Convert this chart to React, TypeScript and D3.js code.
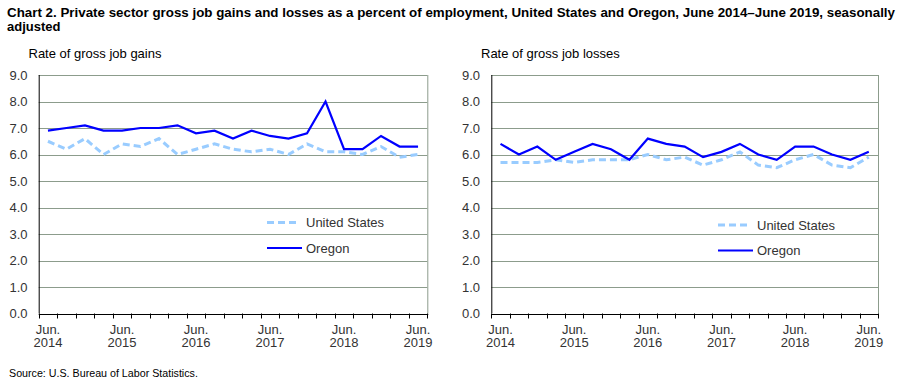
// Chart 2 - gross job gains and losses, US vs Oregon (two panels)
import React, { useEffect, useRef } from 'react';
import * as d3 from 'd3';

const quarters = [
  'Jun 2014', 'Sep 2014', 'Dec 2014', 'Mar 2015',
  'Jun 2015', 'Sep 2015', 'Dec 2015', 'Mar 2016',
  'Jun 2016', 'Sep 2016', 'Dec 2016', 'Mar 2017',
  'Jun 2017', 'Sep 2017', 'Dec 2017', 'Mar 2018',
  'Jun 2018', 'Sep 2018', 'Dec 2018', 'Mar 2019',
  'Jun 2019'
];

const gainsUS = [6.5, 6.2, 6.6, 6.0, 6.4, 6.3, 6.6, 6.0, 6.2, 6.4, 6.2, 6.1, 6.2, 6.0, 6.4, 6.1, 6.1, 6.0, 6.3, 5.9, 6.0];
const gainsOR = [6.9, 7.0, 7.1, 6.9, 6.9, 7.0, 7.0, 7.1, 6.8, 6.9, 6.6, 6.9, 6.7, 6.6, 6.8, 8.0, 6.2, 6.2, 6.7, 6.3, 6.3];

const lossesUS = [5.7, 5.7, 5.7, 5.8, 5.7, 5.8, 5.8, 5.8, 6.0, 5.8, 5.9, 5.6, 5.8, 6.1, 5.6, 5.5, 5.8, 6.0, 5.6, 5.5, 5.9];
const lossesOR = [6.4, 6.0, 6.3, 5.8, 6.1, 6.4, 6.2, 5.8, 6.6, 6.4, 6.3, 5.9, 6.1, 6.4, 6.0, 5.8, 6.3, 6.3, 6.0, 5.8, 6.1];

const yTicks = [0, 1, 2, 3, 4, 5, 6, 7, 8, 9];
const seriesNames = ['United States', 'Oregon'];

const FONT = 'Arial, "Liberation Sans", sans-serif';

const App: React.FC = () => {
  const svgRef = useRef<SVGSVGElement>(null);

  useEffect(() => {
    if (!svgRef.current) return;
    const svg = d3.select(svgRef.current);
    svg.selectAll('*').remove();

    // title
    const title = svg.append('text')
      .attr('font-family', FONT)
      .attr('font-weight', 'bold')
      .attr('font-size', '13px')
      .attr('fill', '#000');
    title.append('tspan').attr('x', 7).attr('y', 16.5)
      .attr('textLength', 888).attr('lengthAdjust', 'spacingAndGlyphs')
      .text('Chart 2. Private sector gross  job gains and losses  as a percent of employment, United States and Oregon, June 2014\u2013June 2019, seasonally');
    title.append('tspan').attr('x', 7).attr('y', 30.5)
      .text('adjusted');

    svg.append('text')
      .attr('x', 9).attr('y', 377)
      .attr('font-family', FONT).attr('font-size', '10.7px').attr('fill', '#000')
      .text('Source: U.S. Bureau of Labor Statistics.');

    const drawPanel = (
      x0: number, x1: number, label: string, labelX: number,
      us: number[], or: number[], legendX: number, legendY: number
    ) => {
      const y = d3.scaleLinear().domain([0, 9]).range([313.5, 75]);
      const x = d3.scaleBand().domain(quarters).range([x0, x1]);
      const bw = x.bandwidth();
      const g = svg.append('g');

      g.append('text')
        .attr('x', labelX).attr('y', 57.5)
        .attr('font-family', FONT).attr('font-size', '13px').attr('fill', '#000')
        .text(label);

      // gridlines
      yTicks.filter(t => t > 0).forEach(t => {
        g.append('line')
          .attr('x1', x0).attr('x2', x1)
          .attr('y1', Math.round(y(t)) + 0.5).attr('y2', Math.round(y(t)) + 0.5)
          .attr('stroke', '#8c9c8c').attr('stroke-width', 1);
      });
      // right border
      g.append('line')
        .attr('x1', x1 + 0.5).attr('x2', x1 + 0.5)
        .attr('y1', y(9)).attr('y2', y(0))
        .attr('stroke', '#8c9c8c');

      // y axis labels
      yTicks.forEach(t => {
        g.append('text')
          .attr('x', x0 - 11.2).attr('y', y(t) + 4.5)
          .attr('text-anchor', 'end')
          .attr('font-family', FONT).attr('font-size', '13px').attr('fill', '#333')
          .text(t.toFixed(1));
      });
      g.append('line')
        .attr('x1', x0 + 0.5).attr('x2', x0 + 0.5)
        .attr('y1', y(9)).attr('y2', y(0))
        .attr('stroke', '#000');

      // x axis with ticks at band boundaries
      g.append('line')
        .attr('x1', x0).attr('x2', x1 + 1)
        .attr('y1', Math.round(y(0)) + 0.5).attr('y2', Math.round(y(0)) + 0.5)
        .attr('stroke', '#000');
      quarters.forEach((q, i) => {
        const bx = Math.round(x(q) as number) + 0.5;
        g.append('line')
          .attr('x1', bx).attr('x2', bx)
          .attr('y1', y(0)).attr('y2', y(0) + 5)
          .attr('stroke', '#000');
        if (i === quarters.length - 1) {
          const ex = Math.round(x1) + 0.5;
          g.append('line')
            .attr('x1', ex).attr('x2', ex)
            .attr('y1', y(0)).attr('y2', y(0) + 5)
            .attr('stroke', '#000');
        }
        if (i % 4 === 0) {
          const cx = (x(q) as number) + bw / 2;
          const [mon, yr] = q.split(' ');
          const t = g.append('text')
            .attr('text-anchor', 'middle')
            .attr('font-family', FONT).attr('font-size', '13px').attr('fill', '#333');
          t.append('tspan').attr('x', cx).attr('y', 333.5).text(mon + '.');
          t.append('tspan').attr('x', cx).attr('y', 347).text(yr);
        }
      });

      const line = d3.line<number>()
        .x((_, i) => (x(quarters[i]) as number) + bw / 2)
        .y(d => y(d));

      g.append('path')
        .datum(us)
        .attr('d', line)
        .attr('fill', 'none')
        .attr('stroke', '#99ccff')
        .attr('stroke-width', 3)
        .attr('stroke-dasharray', '7,4');

      g.append('path')
        .datum(or)
        .attr('d', line)
        .attr('fill', 'none')
        .attr('stroke', '#0000ff')
        .attr('stroke-width', 2.2);

      // legend
      seriesNames.forEach((name, i) => {
        const ly = legendY + i * 25.5;
        g.append('line')
          .attr('x1', legendX).attr('x2', legendX + (i === 0 ? 33 : 35))
          .attr('y1', ly).attr('y2', ly)
          .attr('stroke', i === 0 ? '#99ccff' : '#0000ff')
          .attr('stroke-width', i === 0 ? 3 : 2.2)
          .attr('stroke-dasharray', i === 0 ? '7,4' : null);
        g.append('text')
          .attr('x', legendX + 39).attr('y', ly + 4.5)
          .attr('font-family', FONT).attr('font-size', '13px').attr('fill', '#333')
          .text(name);
      });
    };

    drawPanel(38.7, 427.3, 'Rate of gross job gains', 28.5, gainsUS, gainsOR, 267, 222.5);
    drawPanel(491.3, 878, 'Rate of gross job losses', 481, lossesUS, lossesOR, 718, 225);
  }, []);

  return (
    <svg
      ref={svgRef}
      width={907}
      height={385}
      style={{ position: 'absolute', left: 0, top: 0, background: '#fff' }}
    />
  );
};

export default App;
